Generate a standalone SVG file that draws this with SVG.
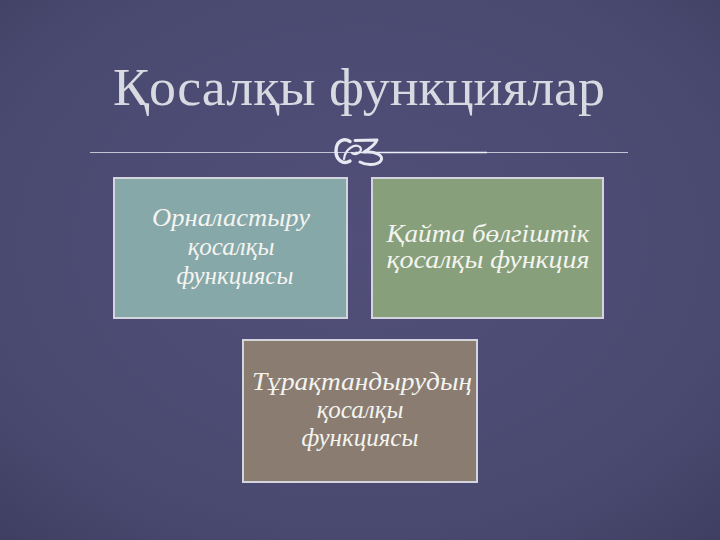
<svg xmlns="http://www.w3.org/2000/svg" width="720" height="540" viewBox="0 0 720 540">
<defs>
<radialGradient id="bg" cx="50%" cy="45%" r="75%">
<stop offset="0" stop-color="#514f79"/>
<stop offset="0.7" stop-color="#4a4970"/>
<stop offset="1" stop-color="#3f3e62"/>
</radialGradient>
<style>
.title{font-family:"Liberation Serif","Times New Roman",serif;font-size:52px;fill:#d9d9e2}
.box{stroke:#d4d4dc;stroke-width:2}
.lbl{font-family:"Liberation Serif","DejaVu Serif",serif;font-style:italic;font-size:25px;fill:#f4f4f0;text-anchor:middle}
.orn{fill:none;stroke:#e8e8f2;stroke-linecap:round;stroke-linejoin:round}
</style>
</defs>
<rect width="720" height="540" fill="url(#bg)"/>
<text class="title" x="113" y="105" textLength="492" lengthAdjust="spacingAndGlyphs">Қосалқы функциялар</text>
<g id="rule">
<line x1="90" y1="152.5" x2="628" y2="152.5" stroke="#c4c4d6" stroke-width="1"/>
<line x1="355" y1="152.5" x2="487" y2="152.5" stroke="#eeeef6" stroke-width="1.6"/>
<g id="ornament">
<path class="orn" stroke-width="3.4" d="M350 141.5 C343 137 336 142 336 151 C336 160 343 165 350 161"/>
<path class="orn" stroke-width="2.2" d="M344 159 C345 149 355 143 360 147 C363 151 357 156 352 153"/>
<path class="orn" stroke-width="3" d="M355 140.5 L377 140 C375 145 369 149 364 152 C376 151 384 156 381 160.5 C378 165.5 366 165.5 360 162"/>
</g>
</g>
<g id="node1">
<rect class="box" x="114" y="178" width="233" height="140" fill="#87a8a9"/>
<text class="lbl" x="231" y="226" textLength="158" lengthAdjust="spacingAndGlyphs">Орналастыру</text>
<text class="lbl" x="231" y="255">қосалқы</text>
<text class="lbl" x="235" y="284">функциясы</text>
</g>
<g id="node2">
<rect class="box" x="372" y="178" width="231" height="140" fill="#87a07b"/>
<text class="lbl" x="488" y="242" textLength="203" lengthAdjust="spacingAndGlyphs">Қайта бөлгіштік</text>
<text class="lbl" x="488" y="268" textLength="203" lengthAdjust="spacingAndGlyphs">қосалқы функция</text>
</g>
<g id="node3">
<rect class="box" x="243" y="340" width="234" height="142" fill="#8a7c70"/>
<text class="lbl" x="362" y="390" textLength="220" lengthAdjust="spacingAndGlyphs">Тұрақтандырудың</text>
<text class="lbl" x="360" y="418">қосалқы</text>
<text class="lbl" x="360" y="446">функциясы</text>
</g>
<g id="connectors"></g>
</svg>
